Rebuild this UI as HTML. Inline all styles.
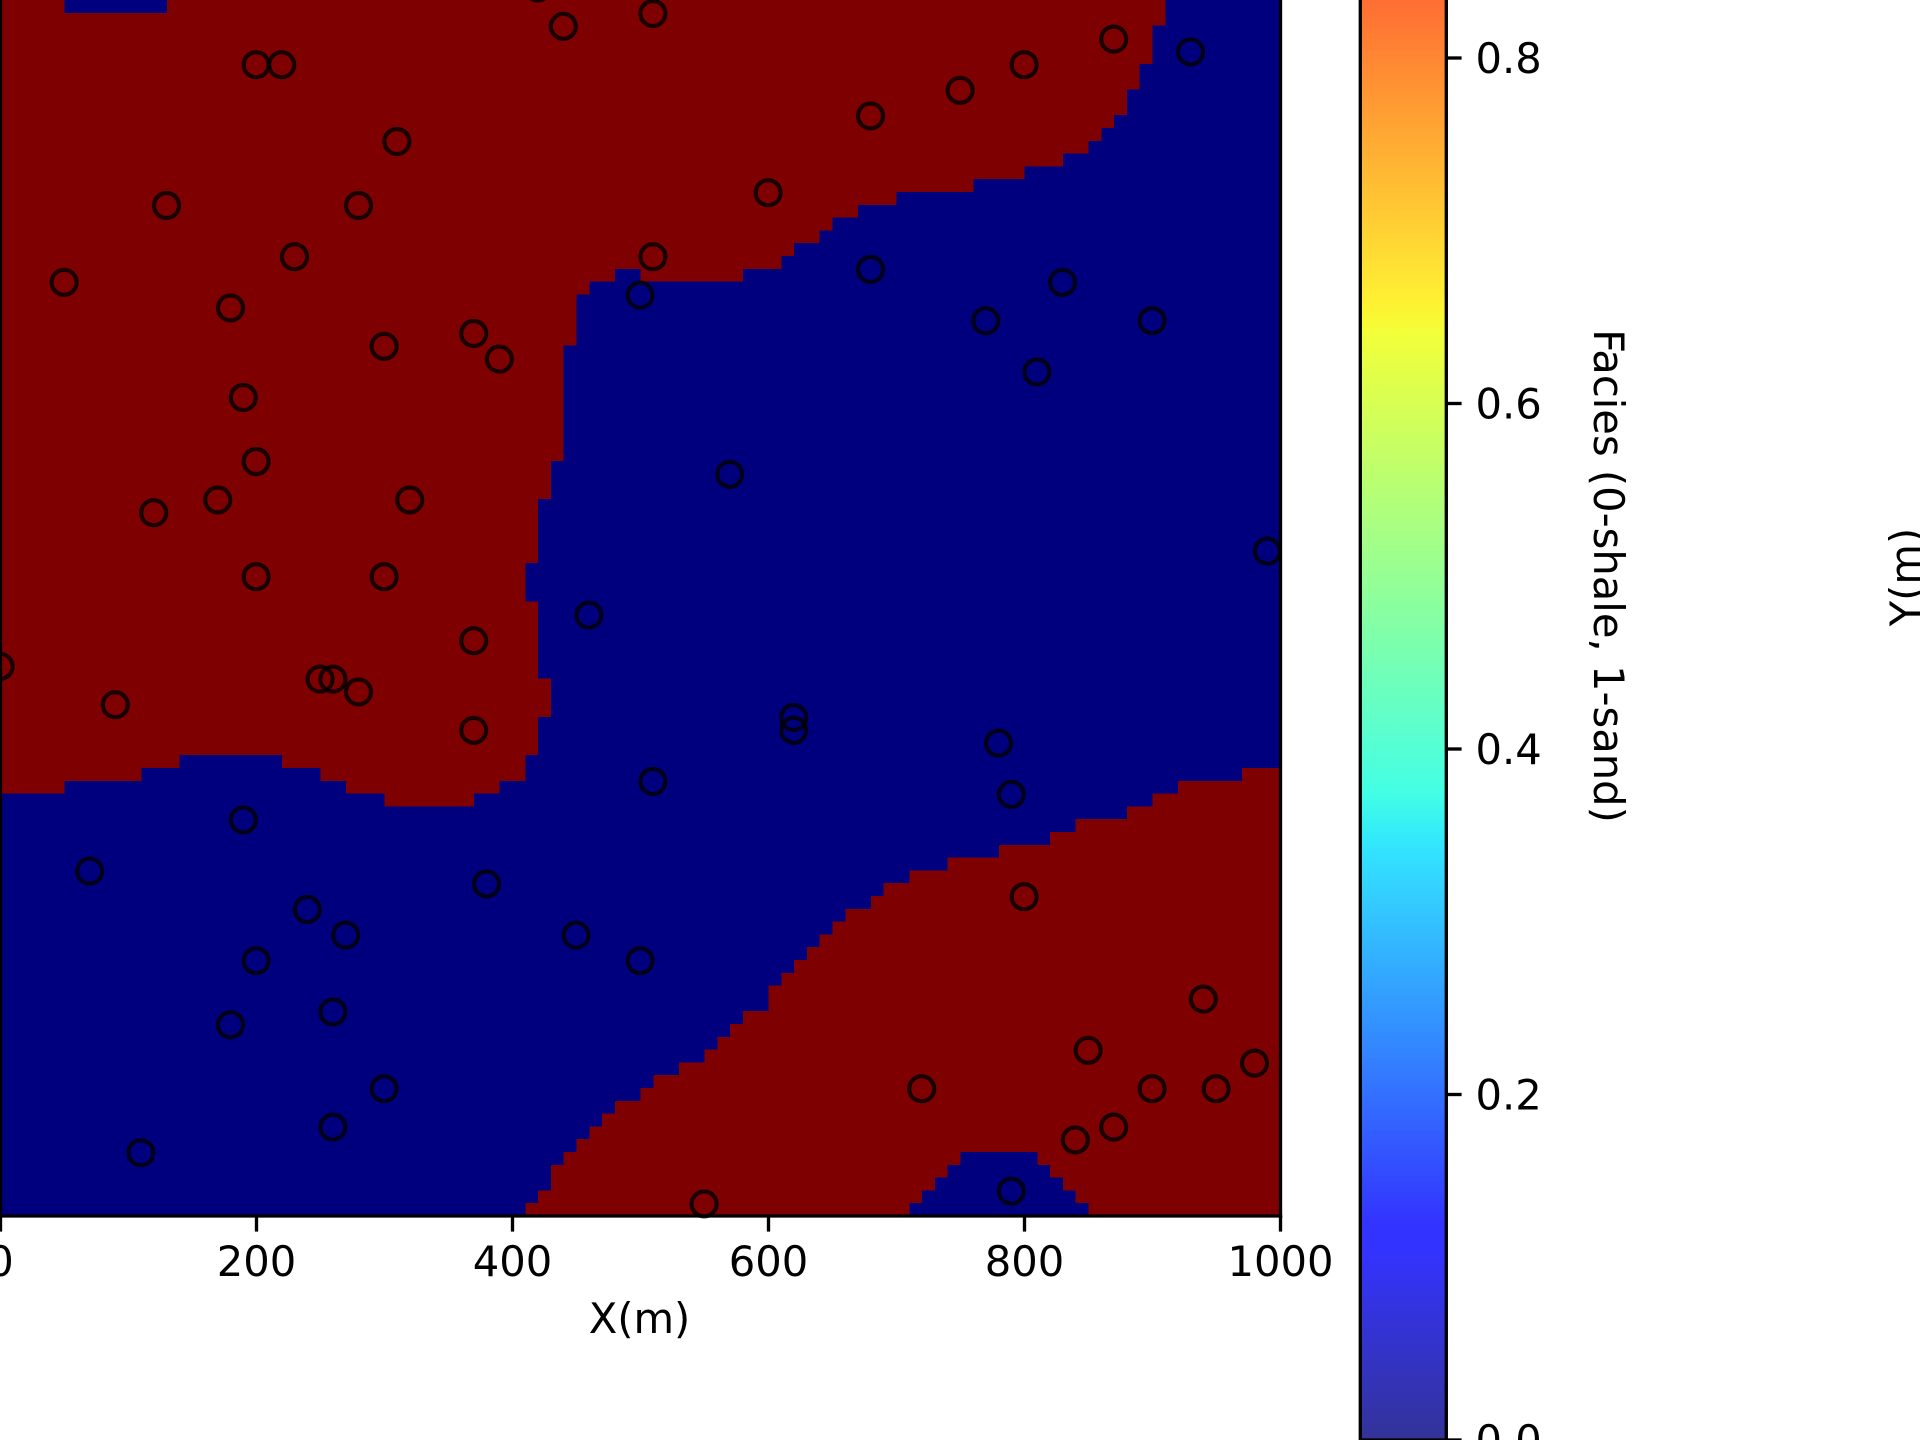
<!DOCTYPE html>
<html lang="en">
<head>
<meta charset="utf-8">
<title>Facies map with well locations</title>
<style>
  html, body { margin: 0; padding: 0; background: #ffffff; width: 1920px; height: 1440px; overflow: hidden; }
  svg { display: block; position: absolute; left: 0; top: 0; }
  text { font-family: "DejaVu Sans", "Liberation Sans", sans-serif; font-size: 41.67px; fill: #000000; }
</style>
</head>
<body>
<svg id="figure" xmlns="http://www.w3.org/2000/svg" width="1920" height="1440" viewBox="0 0 1920 1440">
  <defs>
    <linearGradient id="jet-gradient" x1="0" y1="1" x2="0" y2="0"></linearGradient>
  </defs>
  <rect x="0" y="0" width="1920" height="1440" fill="#ffffff"></rect>
  <g id="heatmap" shape-rendering="crispEdges"></g>
  <g id="wells"></g>
  <g id="axes-frame"></g>
  <g id="x-axis"></g>
  <text x="639.5" y="1333.2" text-anchor="middle">X(m)</text>
  <g id="colorbar"></g>
  <text text-anchor="middle" transform="translate(1594,576) rotate(90)">Facies (0-shale, 1-sand)</text>
  <text text-anchor="middle" transform="translate(1920,577) rotate(-90)">Y(m)</text>
</svg>
<script>
// ---- chart data ----
const xTickValues = [0, 200, 400, 600, 800, 1000];
const colorbarTickValues = [0, 0.2, 0.4, 0.6, 0.8];

// Well locations (metres)
const wellX = [420,440,510,200,220,310,130,280,230,50,180,300,370,390,190,200,170,120,320,200,300,370,0,250,260,280,90,370,190,70,380,240,270,450,200,500,180,260,300,260,110,
  510,500,600,680,750,800,870,930,680,770,830,900,810,570,990,460,620,620,780,790,510,800,940,850,720,900,950,980,870,840,790,550];
const wellY = [960,930,940,900,900,840,790,790,750,730,710,680,690,670,640,590,560,550,560,500,500,450,430,420,420,410,400,380,310,270,260,240,220,220,200,200,150,160,100,70,50,
  750,720,800,860,880,900,920,910,740,700,730,700,660,580,520,470,390,380,370,330,340,250,170,130,100,100,100,120,70,60,20,10];

// Sand (facies = 1) cell ranges [from, to) per grid row, row 0 at Y = 0; every other cell is shale (facies = 0)
const sandRuns = [
  [[41,71],[85,100]],[[42,72],[84,100]],[[43,73],[83,100]],[[43,74],[82,100]],[[44,75],[81,100]],
  [[45,100]],[[46,100]],[[47,100]],[[48,100]],[[50,100]],
  [[51,100]],[[53,100]],[[55,100]],[[56,100]],[[57,100]],
  [[58,100]],[[60,100]],[[60,100]],[[61,100]],[[62,100]],
  [[63,100]],[[64,100]],[[65,100]],[[66,100]],[[68,100]],
  [[69,100]],[[71,100]],[[74,100]],[[78,100]],[[82,100]],
  [[84,100]],[[88,100]],[[30,37],[90,100]],[[0,5],[27,39],[92,100]],[[0,11],[25,41],[97,100]],
  [[0,14],[22,41]],[[0,42]],[[0,42]],[[0,42]],[[0,43]],
  [[0,43]],[[0,43]],[[0,42]],[[0,42]],[[0,42]],
  [[0,42]],[[0,42]],[[0,42]],[[0,41]],[[0,41]],
  [[0,41]],[[0,42]],[[0,42]],[[0,42]],[[0,42]],
  [[0,42]],[[0,43]],[[0,43]],[[0,43]],[[0,44]],
  [[0,44]],[[0,44]],[[0,44]],[[0,44]],[[0,44]],
  [[0,44]],[[0,44]],[[0,44]],[[0,45]],[[0,45]],
  [[0,45]],[[0,45]],[[0,46]],[[0,48],[50,58]],[[0,61]],
  [[0,62]],[[0,64]],[[0,65]],[[0,67]],[[0,70]],
  [[0,76]],[[0,80]],[[0,83]],[[0,85]],[[0,86]],
  [[0,87]],[[0,88]],[[0,88]],[[0,89]],[[0,89]],
  [[0,90]],[[0,90]],[[0,90]],[[0,91]],[[0,5],[13,91]],
  [[0,5],[13,91]],[[0,91]],[[0,91]],[[0,91]],[[0,91]]
];

// Jet colormap stops: value, colour
const jetValues = [0, 0.11, 0.125, 0.34, 0.35, 0.375, 0.64, 0.65, 0.66, 0.89, 0.91, 1];
const jetColors = ['#00007f','#0000ff','#0000ff','#00dbff','#00e6f7','#15ffde','#eeff08','#f7f600','#ffec00','#ff1300','#e80000','#7f0000'];

// ---- scales ----
const SVG_NS = 'http://www.w3.org/2000/svg';
const cellMetres = 10;
function xScale(v) { return 0.5 + 1.28 * v; }
function yScale(v) { return 1216 - 1.28 * v; }
function wellXScale(v) { return xScale(v) - 0.4; }
function wellYScale(v) { return yScale(v) + 0.7; }
function colorbarScale(v) { return 1440 - 1727.5 * v; }
function facies(row, col) {
  return sandRuns[row].some(function (run) { return col >= run[0] && col < run[1]; }) ? 1 : 0;
}
function create(tag, parent, attrs) {
  const el = document.createElementNS(SVG_NS, tag);
  Object.keys(attrs).forEach(function (k) { el.setAttribute(k, attrs[k]); });
  parent.appendChild(el);
  return el;
}

// ---- heatmap ----
const heatmap = document.getElementById('heatmap');
sandRuns.forEach(function (runs, row) {
  let start = 0;
  for (let col = 1; col <= 100; col++) {
    if (col === 100 || facies(row, col) !== facies(row, start)) {
      const value = facies(row, start);
      const cell = create('rect', heatmap, {
        x: xScale(start * cellMetres),
        y: yScale((row + 1) * cellMetres),
        width: xScale(col * cellMetres) - xScale(start * cellMetres),
        height: yScale(row * cellMetres) - yScale((row + 1) * cellMetres),
        fill: value === 1 ? '#7f0000' : '#00007f'
      });
      
      
      start = col;
    }
  }
});

// ---- wells ----
const wells = document.getElementById('wells');
wellX.forEach(function (x, i) {
  const well = create('circle', wells, {
    cx: wellXScale(x), cy: wellYScale(wellY[i]), r: 12.5,
    fill: 'none', stroke: '#000000', 'stroke-width': 4.17, 'stroke-opacity': 0.8
  });
  
  
});

// ---- axes frame ----
const frame = document.getElementById('axes-frame');
const frameLeft = create('line', frame, { x1: xScale(0), x2: xScale(0), y1: yScale(1000), y2: yScale(0), stroke: '#000', 'stroke-width': 3.33, 'stroke-linecap': 'square' });


const frameRight = create('line', frame, { x1: xScale(1000), x2: xScale(1000), y1: yScale(1000), y2: yScale(0), stroke: '#000', 'stroke-width': 3.33, 'stroke-linecap': 'square' });


const frameBottom = create('line', frame, { x1: xScale(0), x2: xScale(1000), y1: yScale(0), y2: yScale(0), stroke: '#000', 'stroke-width': 3.33, 'stroke-linecap': 'square' });



// ---- x axis ----
const xAxis = document.getElementById('x-axis');
xTickValues.forEach(function (v) {
  const tick = create('line', xAxis, { x1: xScale(v), x2: xScale(v), y1: 1216, y2: 1231.6, stroke: '#000', 'stroke-width': 3.33 });
  
  
  const label = create('text', xAxis, { x: xScale(v), y: 1276, 'text-anchor': 'middle' });
  label.textContent = String(v);
  
  
});

// ---- colorbar ----
const gradient = document.getElementById('jet-gradient');
jetValues.forEach(function (v, i) {
  create('stop', gradient, { offset: v, 'stop-color': jetColors[i] });
});
const colorbar = document.getElementById('colorbar');
const colorbarFill = create('rect', colorbar, {
  x: 1360.3, y: colorbarScale(1), width: 86, height: colorbarScale(0) - colorbarScale(1),
  fill: 'url(#jet-gradient)', 'fill-opacity': 0.8
});


const colorbarOutline = create('rect', colorbar, {
  x: 1360.3, y: colorbarScale(1), width: 86, height: colorbarScale(0) - colorbarScale(1),
  fill: 'none', stroke: '#000', 'stroke-width': 3.33
});


colorbarTickValues.forEach(function (v) {
  const tick = create('line', colorbar, { x1: 1446.3, x2: 1461.6, y1: colorbarScale(v), y2: colorbarScale(v), stroke: '#000', 'stroke-width': 3.33 });
  
  
  const label = create('text', colorbar, { x: 1475.5, y: colorbarScale(v) + 15 });
  label.textContent = v.toFixed(1);
  
  
});
</script>
</body>
</html>
